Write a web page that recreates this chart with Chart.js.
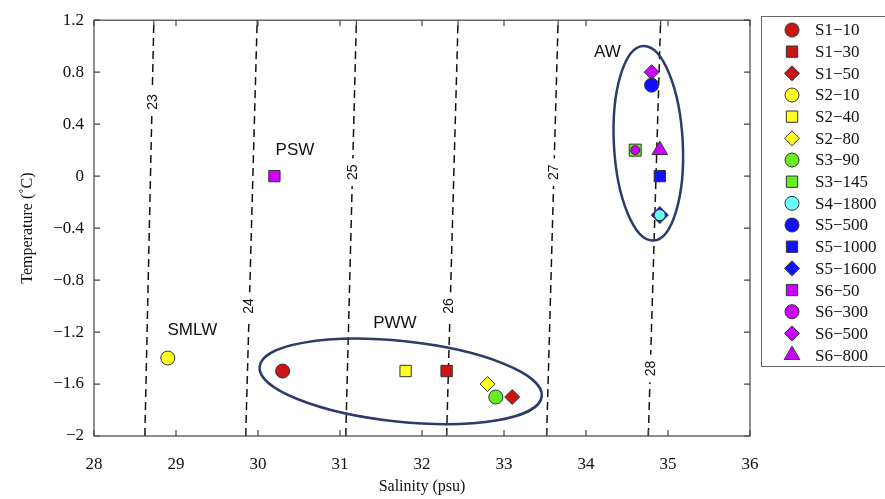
<!DOCTYPE html>
<html>
<head>
<meta charset="utf-8">
<script src="https://cdn.jsdelivr.net/npm/chart.js@4.4.1/dist/chart.umd.min.js"></script>
<style>
  html, body { margin: 0; padding: 0; background: #fff; }
  #wrap { width: 885px; height: 499px; position: relative; }
</style>
</head>
<body>
<div id="wrap"><canvas id="tsChart"></canvas></div>
<script>
"use strict";

// samples (station - depth)
const sampleNames = ['S1−10', 'S1−30', 'S1−50', 'S2−10', 'S2−40', 'S2−80', 'S3−90', 'S3−145',
    'S4−1800', 'S5−500', 'S5−1000', 'S5−1600', 'S6−50', 'S6−300', 'S6−500', 'S6−800'];
const salinity = [30.3, 32.3, 33.1, 28.9, 31.8, 32.8, 32.9, 34.6,
    34.9, 34.8, 34.9, 34.9, 30.2, 34.6, 34.8, 34.9];
const temperature = [-1.5, -1.5, -1.7, -1.4, -1.5, -1.6, -1.7, 0.2,
    -0.3, 0.7, 0.0, -0.3, 0.0, 0.2, 0.8, 0.2];
const markerShapes = ['circle', 'rect', 'rectRot', 'circle', 'rect', 'rectRot', 'circle', 'rect',
    'circle', 'circle', 'rect', 'rectRot', 'rect', 'circle', 'rectRot', 'triangle'];
const markerColors = ['#cc1414', '#cc1414', '#cc1414', '#ffff22', '#ffff22', '#ffff22', '#66ee22', '#66ee22',
    '#66ffff', '#1010ff', '#1010ff', '#1010ff', '#cc00ff', '#cc00ff', '#cc00ff', '#cc00ff'];
const markerSize = { circle: 7, rect: 8, rectRot: 7.5, triangle: 9 };
// stacked markers in the plot are drawn smaller/larger so both stay visible
const stackedSize = { 'S3−145': 8.5, 'S6−300': 4.5, 'S4−1800': 5.5, 'S5−1600': 8.5 };

// axis ranges
const salMin = 28, salMax = 36;
const tempMin = -2, tempMax = 1.2;

// isopycnals (sigma-t), salinity where each meets the top and bottom of the frame
const sigmaLevels = [23, 24, 25, 26, 27, 28];
const sigmaSalTop = [28.73, 29.99, 31.20, 32.44, 33.66, 34.91];
const sigmaSalBottom = [28.62, 29.85, 31.07, 32.30, 33.52, 34.76];
const sigmaLabelSal = [28.71, 29.88, 31.15, 32.32, 33.60, 34.78];
const sigmaLabelTemp = [0.57, -1.0, 0.03, -1.0, 0.03, -1.48];

// water mass names
const waterMassNames = ['AW', 'PSW', 'SMLW', 'PWW'];
const waterMassSal = [34.26, 30.45, 29.2, 31.67];
const waterMassTemp = [0.95, 0.2, -1.19, -1.13];

// ellipses round PWW and AW: centre, half sizes in data units, tilt in degrees
const ellipseSal = [31.74, 34.76];
const ellipseTemp = [-1.58, 0.253];
const ellipseHalfSal = [1.73, 0.42];
const ellipseHalfTemp = [0.31, 0.75];
const ellipseTilt = [6, -3];

const serif = '"Liberation Serif", "Times New Roman", serif';
const sans = '"Liberation Sans", Arial, sans-serif';

function fmtTick(v) {
    return String(Math.round(v * 10) / 10).replace('-', '−');
}

var datasets = [];
sampleNames.forEach(function(name, i) {
    var shape = markerShapes[i];
    datasets.push({
        label: name,
        data: [{ x: salinity[i], y: temperature[i] }],
        pointStyle: shape,
        pointRadius: stackedSize[name] || markerSize[shape],
        backgroundColor: markerColors[i],
        borderColor: '#333',
        borderWidth: 1,
        order: name === 'S6−300' ? -1 : 0
    });
});
sigmaLevels.forEach(function(lvl, i) {
    datasets.push({
        label: 'sigma ' + lvl,
        data: [{ x: sigmaSalBottom[i], y: tempMin }, { x: sigmaSalTop[i], y: tempMax }],
        showLine: true,
        pointRadius: 0,
        borderColor: '#111',
        borderWidth: 1.5,
        borderDash: [8, 5],
        order: 5
    });
});

const overlay = {
    id: 'overlay',
    afterDatasetsDraw(chart) {
        const ctx = chart.ctx, a = chart.chartArea;
        const x = chart.scales.x, y = chart.scales.y;
        ctx.save();

        // isopycnal labels, with a gap cut in the dashed line
        ctx.font = '14px ' + sans;
        ctx.textAlign = 'center';
        ctx.textBaseline = 'middle';
        sigmaLevels.forEach(function(lvl, i) {
            var px = x.getPixelForValue(sigmaLabelSal[i]);
            var py = y.getPixelForValue(sigmaLabelTemp[i]);
            var w = ctx.measureText(String(lvl)).width + 12;
            ctx.save();
            ctx.translate(px, py);
            ctx.rotate(-Math.PI / 2);
            ctx.fillStyle = '#fff';
            ctx.fillRect(-w / 2, -7, w, 14);
            ctx.fillStyle = '#111';
            ctx.fillText(String(lvl), 0, 1);
            ctx.restore();
        });

        // ellipses
        ctx.strokeStyle = '#2b3b6c';
        ctx.lineWidth = 2.5;
        ellipseSal.forEach(function(s, i) {
            var cx = x.getPixelForValue(s), cy = y.getPixelForValue(ellipseTemp[i]);
            var rx = Math.abs(x.getPixelForValue(s + ellipseHalfSal[i]) - cx);
            var ry = Math.abs(y.getPixelForValue(ellipseTemp[i] + ellipseHalfTemp[i]) - cy);
            ctx.beginPath();
            ctx.ellipse(cx, cy, rx, ry, ellipseTilt[i] * Math.PI / 180, 0, 2 * Math.PI);
            ctx.stroke();
        });

        // water mass names
        ctx.fillStyle = '#111';
        ctx.font = '17px ' + sans;
        waterMassNames.forEach(function(n, i) {
            ctx.fillText(n, x.getPixelForValue(waterMassSal[i]), y.getPixelForValue(waterMassTemp[i]));
        });

        // frame and inward ticks
        ctx.strokeStyle = '#444';
        ctx.lineWidth = 1.2;
        ctx.strokeRect(a.left, a.top, a.right - a.left, a.bottom - a.top);
        var tl = 6;
        ctx.beginPath();
        x.ticks.forEach(function(t) {
            var px = x.getPixelForValue(t.value);
            ctx.moveTo(px, a.bottom); ctx.lineTo(px, a.bottom - tl);
            ctx.moveTo(px, a.top); ctx.lineTo(px, a.top + tl);
        });
        sigmaLevels.forEach(function(lvl, i) {
            var pb = x.getPixelForValue(sigmaSalBottom[i]);
            var pt = x.getPixelForValue(sigmaSalTop[i]);
            ctx.moveTo(pb, a.bottom); ctx.lineTo(pb, a.bottom - tl);
            ctx.moveTo(pt, a.top); ctx.lineTo(pt, a.top + tl);
        });
        y.ticks.forEach(function(t) {
            var py = y.getPixelForValue(t.value);
            ctx.moveTo(a.left, py); ctx.lineTo(a.left + tl, py);
            ctx.moveTo(a.right, py); ctx.lineTo(a.right - tl, py);
        });
        ctx.stroke();
        ctx.restore();
    },
    afterDraw(chart) {
        // legend box on the right
        const ctx = chart.ctx;
        var boxL = 761, boxT = 16, rowH = 21.67;
        ctx.save();
        ctx.strokeStyle = '#666';
        ctx.lineWidth = 1;
        ctx.strokeRect(boxL + 0.5, boxT + 0.5, 140, 350);
        ctx.font = '17px ' + serif;
        ctx.textAlign = 'left';
        ctx.textBaseline = 'middle';
        sampleNames.forEach(function(name, i) {
            var cy = boxT + 14 + i * rowH;
            var shape = markerShapes[i];
            ctx.fillStyle = markerColors[i];
            ctx.strokeStyle = '#333';
            ctx.lineWidth = 1;
            Chart.helpers.drawPoint(ctx, { pointStyle: shape, radius: markerSize[shape], rotation: 0, borderWidth: 1 }, 792, cy);
            ctx.fillStyle = '#111';
            ctx.fillText(name, 815, cy + 1);
        });
        ctx.restore();
    }
};

new Chart(document.getElementById('tsChart').getContext('2d'), {
    type: 'scatter',
    data: { datasets: datasets },
    options: {
        responsive: true,
        maintainAspectRatio: false,
        animation: false,
        layout: { padding: { top: 17, right: 135, left: 0, bottom: 0 } },
        plugins: { legend: { display: false }, tooltip: { enabled: false } },
        scales: {
            x: {
                type: 'linear', min: salMin, max: salMax,
                afterFit: function(s) { s.height = 63; },
                grid: { display: false, drawTicks: false },
                border: { display: false },
                ticks: { stepSize: 1, padding: 18, color: '#111', font: { family: serif, size: 17 } },
                title: { display: true, text: 'Salinity (psu)', color: '#111',
                    font: { family: serif, size: 16 }, padding: { top: 0, bottom: 3 } }
            },
            y: {
                type: 'linear', min: tempMin, max: tempMax,
                afterFit: function(s) { s.width = 94; },
                grid: { display: false, drawTicks: false },
                border: { display: false },
                ticks: { stepSize: 0.4, padding: 10, color: '#111', font: { family: serif, size: 17 },
                    callback: function(v) { return fmtTick(v); } },
                title: { display: true, text: 'Temperature (˚C)', color: '#111',
                    font: { family: serif, size: 16 }, padding: { top: 18, bottom: 0 } }
            }
        }
    },
    plugins: [overlay]
});
</script>
</body>
</html>
